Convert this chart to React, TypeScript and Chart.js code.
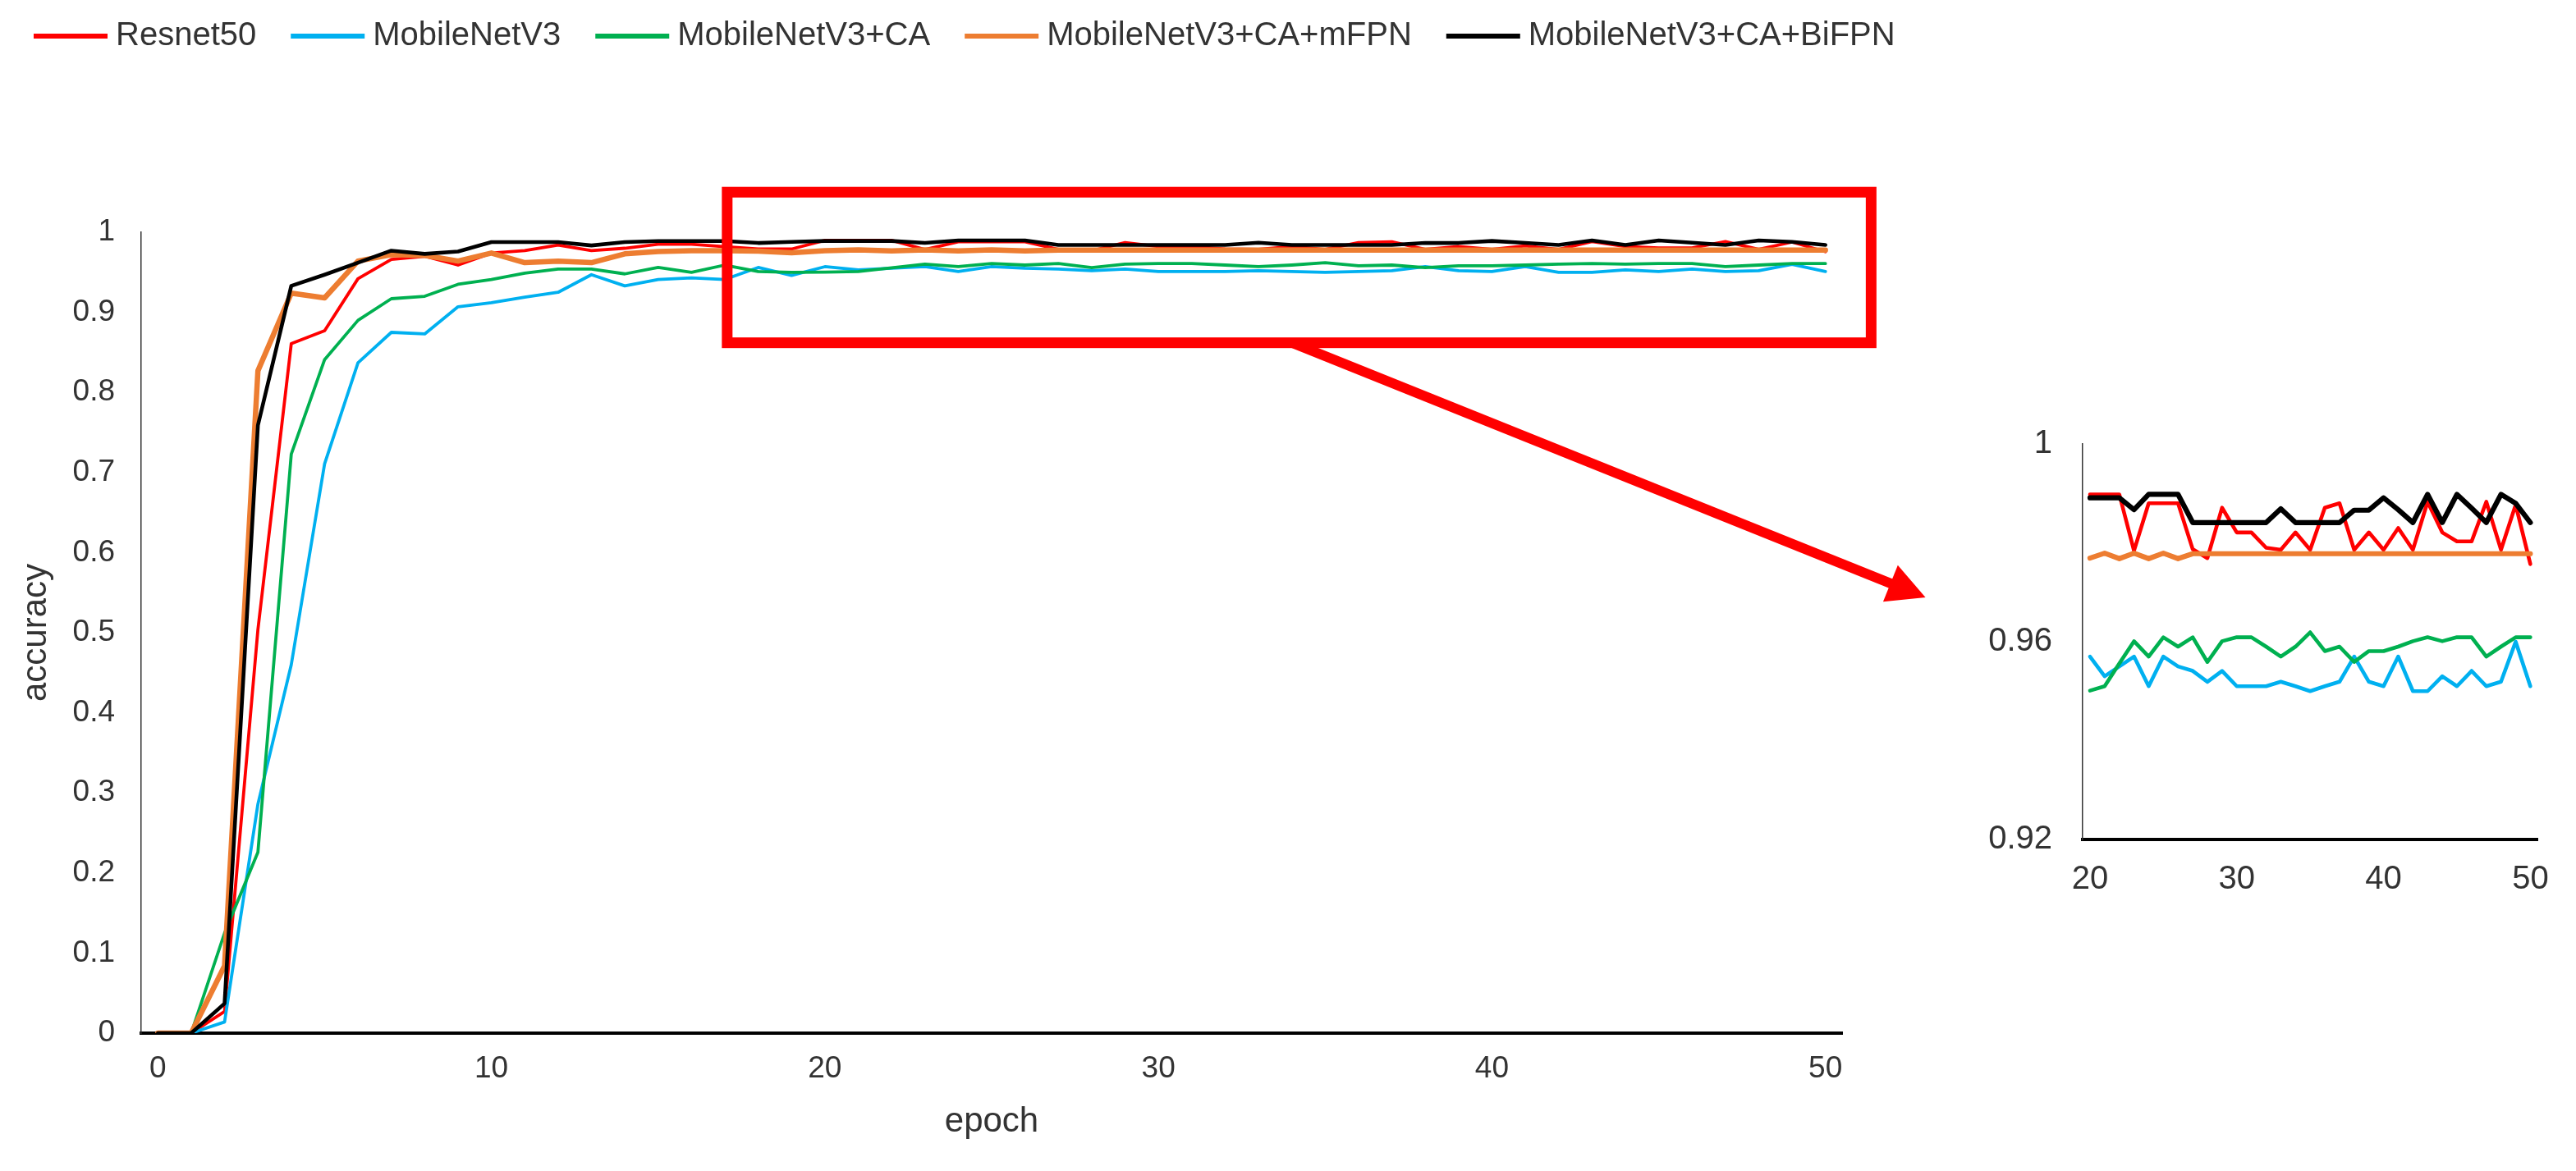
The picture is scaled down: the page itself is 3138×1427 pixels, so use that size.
import React, { useEffect, useRef } from "react";
import { Chart, registerables } from "chart.js";

Chart.register(...registerables);

// ---------------- data ----------------
const epochs = [
  "0", "1", "2", "3", "4", "5", "6", "7", "8", "9",
  "10", "11", "12", "13", "14", "15", "16", "17", "18", "19",
  "20", "21", "22", "23", "24", "25", "26", "27", "28", "29",
  "30", "31", "32", "33", "34", "35", "36", "37", "38", "39",
  "40", "41", "42", "43", "44", "45", "46", "47", "48", "49", "50",
];

const mainXTickLabels = ["0", "10", "20", "30", "40", "50"];
const mainYTicks = [0, 0.1, 0.2, 0.3, 0.4, 0.5, 0.6, 0.7, 0.8, 0.9, 1];
const insetXTickLabels = ["20", "30", "40", "50"];
const insetYTicks = [0.92, 0.96, 1];
const insetStartEpoch = 20;

const seriesNames = [
  "Resnet50",
  "MobileNetV3",
  "MobileNetV3+CA",
  "MobileNetV3+CA+mFPN",
  "MobileNetV3+CA+BiFPN",
];

const resnet50 = [
  0, 0, 0.027, 0.504, 0.861, 0.877, 0.942, 0.966, 0.970, 0.959,
  0.974, 0.977, 0.984, 0.977, 0.980, 0.985, 0.985, 0.982, 0.979, 0.979,
  0.9898, 0.9898, 0.9898, 0.9784, 0.988, 0.988, 0.988, 0.9787, 0.9769, 0.9871,
  0.9821, 0.9821, 0.979, 0.9786, 0.9821, 0.9786, 0.9871, 0.988, 0.9786, 0.9821,
  0.9786, 0.983, 0.9786, 0.9883, 0.9821, 0.9803, 0.9803, 0.9883, 0.9786, 0.9877, 0.9757,
];

const mobileNetV3 = [
  0, 0, 0.014, 0.286, 0.46, 0.711, 0.837, 0.875, 0.873, 0.907,
  0.912, 0.919, 0.925, 0.947, 0.933, 0.941, 0.943, 0.941, 0.956, 0.946,
  0.957, 0.953, 0.955, 0.957, 0.951, 0.957, 0.955, 0.9541, 0.9519, 0.9541,
  0.951, 0.951, 0.951, 0.9519, 0.951, 0.950, 0.951, 0.9519, 0.957, 0.9519,
  0.951, 0.957, 0.950, 0.950, 0.953, 0.951, 0.9541, 0.951, 0.9519, 0.960, 0.951,
];

const mobileNetV3CA = [
  0, 0, 0.125, 0.226, 0.723, 0.841, 0.890, 0.917, 0.920, 0.935,
  0.941, 0.949, 0.954, 0.954, 0.948, 0.956, 0.950, 0.959, 0.951, 0.950,
  0.9501, 0.951, 0.9556, 0.9601, 0.957, 0.9609, 0.959, 0.9609, 0.9559, 0.9601,
  0.9609, 0.9609, 0.959, 0.957, 0.959, 0.9619, 0.9581, 0.959, 0.9559, 0.9581,
  0.9581, 0.959, 0.9601, 0.9609, 0.9601, 0.9609, 0.9609, 0.957, 0.959, 0.9609, 0.9609,
];

const mobileNetV3CAmFPN = [
  0, 0, 0.084, 0.827, 0.924, 0.918, 0.964, 0.972, 0.971, 0.964,
  0.974, 0.962, 0.964, 0.962, 0.973, 0.976, 0.977, 0.977, 0.9765, 0.9745,
  0.9769, 0.9779, 0.9768, 0.9779, 0.9768, 0.9779, 0.9768, 0.9778, 0.9778, 0.9778,
  0.9778, 0.9778, 0.9778, 0.9778, 0.9778, 0.9778, 0.9778, 0.9778, 0.9778, 0.9778,
  0.9778, 0.9778, 0.9778, 0.9778, 0.9778, 0.9778, 0.9778, 0.9778, 0.9778, 0.9778, 0.9778,
];

const mobileNetV3CABiFPN = [
  0, 0, 0.037, 0.759, 0.933, 0.947, 0.962, 0.977, 0.973, 0.976,
  0.9877, 0.9877, 0.9877, 0.9835, 0.9877, 0.989, 0.989, 0.989, 0.9866, 0.988,
  0.9891, 0.9891, 0.9891, 0.9867, 0.9898, 0.9898, 0.9898, 0.9841, 0.9841, 0.9841,
  0.9841, 0.9841, 0.9841, 0.9869, 0.9841, 0.9841, 0.9841, 0.9841, 0.9866, 0.9866,
  0.9891, 0.9867, 0.9841, 0.9898, 0.9841, 0.9898, 0.987, 0.9841, 0.9898, 0.988, 0.9841,
];

// annotation (in main-chart data units: epoch index, accuracy)
const zoomBoxEpochs = [17.07, 51.37];
const zoomBoxAccuracy = [0.862, 1.05];
const arrowFrom = [34.0, 0.862];
const arrowTo = [53.0, 0.544];

// ---------------- styles ----------------
const seriesData = [resnet50, mobileNetV3, mobileNetV3CA, mobileNetV3CAmFPN, mobileNetV3CABiFPN];
const seriesColors = ["#FF0000", "#00B0F0", "#00B050", "#ED7D31", "#000000"];
const mainWidths = [3.8, 3.8, 3.8, 6.5, 4.6];
const insetWidths = [4.6, 4.6, 4.6, 6.2, 6.2];

const FONT = "'Liberation Sans', Arial, sans-serif";
const TEXT = "#333333";
const W = 3122;
const H = 1411;

const fmt = (v: any) => String(Math.round(Number(v) * 100) / 100);

const annotationPlugin = {
  id: "zoomMarker",
  afterDatasetsDraw(chart: any) {
    const { ctx } = chart;
    const x = chart.scales.x;
    const y = chart.scales.y;
    const l = x.getPixelForValue(zoomBoxEpochs[0]);
    const r = x.getPixelForValue(zoomBoxEpochs[1]);
    const t = y.getPixelForValue(zoomBoxAccuracy[1]);
    const b = y.getPixelForValue(zoomBoxAccuracy[0]);
    ctx.save();
    ctx.strokeStyle = "#FF0000";
    ctx.fillStyle = "#FF0000";
    ctx.lineWidth = 13;
    ctx.lineJoin = "miter";
    ctx.strokeRect(l, t, r - l, b - t);

    const sx = x.getPixelForValue(arrowFrom[0]);
    const sy = y.getPixelForValue(arrowFrom[1]);
    const tx = x.getPixelForValue(arrowTo[0]);
    const ty = y.getPixelForValue(arrowTo[1]);
    const ang = Math.atan2(ty - sy, tx - sx);
    const c = Math.cos(ang);
    const s = Math.sin(ang);
    const headLen = 46;
    const headHalf = 24;
    const bx = tx - headLen * c;
    const by = ty - headLen * s;
    ctx.lineWidth = 12;
    ctx.lineCap = "butt";
    ctx.beginPath();
    ctx.moveTo(sx, sy);
    ctx.lineTo(bx + 4 * c, by + 4 * s);
    ctx.stroke();
    ctx.beginPath();
    ctx.moveTo(tx, ty);
    ctx.lineTo(bx - headHalf * s, by + headHalf * c);
    ctx.lineTo(bx + headHalf * s, by - headHalf * c);
    ctx.closePath();
    ctx.fill();
    ctx.restore();
  },
};

const legendPlugin = {
  id: "topLegend",
  afterDraw(chart: any) {
    const ctx = chart.ctx;
    ctx.save();
    ctx.font = `40px ${FONT}`;
    ctx.textBaseline = "middle";
    ctx.textAlign = "left";
    let xPos = 33;
    const yPos = 36;
    chart.data.datasets.forEach((ds: any) => {
      ctx.strokeStyle = ds.borderColor;
      ctx.lineWidth = 6;
      ctx.lineCap = "butt";
      ctx.beginPath();
      ctx.moveTo(xPos, yPos);
      ctx.lineTo(xPos + 90, yPos);
      ctx.stroke();
      ctx.fillStyle = TEXT;
      ctx.fillText(ds.label, xPos + 100, yPos);
      xPos += 100 + ctx.measureText(ds.label).width + 42;
    });
    ctx.restore();
  },
};

function makeDatasets(widths: number[], start: number) {
  return seriesNames.map((name, i) => ({
    label: name,
    data: seriesData[i].slice(start),
    borderColor: seriesColors[i],
    backgroundColor: seriesColors[i],
    borderWidth: widths[i],
    pointRadius: 0,
    pointHoverRadius: 0,
    tension: 0,
    fill: false,
    borderJoinStyle: "round" as const,
    borderCapStyle: "round" as const,
    order: seriesNames.length - 1 - i,
  }));
}

export default function App() {
  const mainRef = useRef<HTMLCanvasElement>(null);
  const insetRef = useRef<HTMLCanvasElement>(null);

  useEffect(() => {
    if (!mainRef.current || !insetRef.current) return;

    const main = new Chart(mainRef.current, {
      type: "line",
      data: { labels: epochs, datasets: makeDatasets(mainWidths, 0) as any },
      options: {
        responsive: false,
        animation: false,
        events: [],
        layout: { padding: { left: 0, top: 275, right: 886, bottom: 0 } },
        plugins: { legend: { display: false }, tooltip: { enabled: false }, title: { display: false } },
        scales: {
          x: {
            type: "category",
            offset: true,
            grid: { display: false, drawTicks: false },
            border: { display: true, color: "#000000", width: 4 },
            ticks: {
              autoSkip: false,
              maxRotation: 0,
              minRotation: 0,
              padding: 22,
              color: TEXT,
              font: { family: FONT, size: 37 },
              callback: (_v: any, index: number) =>
                mainXTickLabels.includes(epochs[index]) ? epochs[index] : "",
            },
            title: {
              display: true,
              text: "epoch",
              color: TEXT,
              font: { family: FONT, size: 42 },
              padding: { top: 0, bottom: 26 },
            },
            afterFit: (s: any) => {
              s.height = 160;
            },
          },
          y: {
            type: "linear",
            min: 0,
            max: 1,
            grid: { display: false, drawTicks: false },
            border: { display: true, color: "#333333", width: 1.5 },
            ticks: { padding: 32, color: TEXT, font: { family: FONT, size: 37 }, callback: fmt },
            afterBuildTicks: (s: any) => {
              s.ticks = mainYTicks.map((v) => ({ value: v }));
            },
            title: {
              display: true,
              text: "accuracy",
              color: TEXT,
              font: { family: FONT, size: 42 },
              padding: { top: 11, bottom: 0 },
            },
            afterFit: (s: any) => {
              s.width = 164;
            },
          },
        },
      },
      plugins: [annotationPlugin, legendPlugin],
    });

    const insetLabels = epochs.slice(insetStartEpoch);
    const inset = new Chart(insetRef.current, {
      type: "line",
      data: { labels: insetLabels, datasets: makeDatasets(insetWidths, insetStartEpoch) as any },
      options: {
        responsive: false,
        animation: false,
        events: [],
        layout: { padding: { left: 0, top: 46, right: 23, bottom: 0 } },
        plugins: { legend: { display: false }, tooltip: { enabled: false }, title: { display: false } },
        scales: {
          x: {
            type: "category",
            offset: true,
            grid: { display: false, drawTicks: false },
            border: { display: true, color: "#000000", width: 4 },
            ticks: {
              autoSkip: false,
              maxRotation: 0,
              minRotation: 0,
              padding: 25,
              color: TEXT,
              font: { family: FONT, size: 40 },
              callback: (_v: any, index: number) =>
                insetXTickLabels.includes(insetLabels[index]) ? insetLabels[index] : "",
            },
            afterFit: (s: any) => {
              s.height = 87;
            },
          },
          y: {
            type: "linear",
            min: 0.92,
            max: 1,
            grid: { display: false, drawTicks: false },
            border: { display: true, color: "#333333", width: 1.5 },
            ticks: { padding: 37, color: TEXT, font: { family: FONT, size: 40 }, callback: fmt },
            afterBuildTicks: (s: any) => {
              s.ticks = insetYTicks.map((v) => ({ value: v }));
            },
            afterFit: (s: any) => {
              s.width = 197;
            },
          },
        },
      },
    });

    return () => {
      main.destroy();
      inset.destroy();
    };
  }, []);

  return (
    <div style={{ position: "relative", width: W, height: H, background: "#ffffff" }}>
      <canvas
        ref={mainRef}
        width={W}
        height={H}
        style={{ position: "absolute", left: 0, top: 0, width: W, height: H, display: "block" }}
      />
      <canvas
        ref={insetRef}
        width={790}
        height={630}
        style={{ position: "absolute", left: 2332, top: 472, width: 790, height: 630, display: "block" }}
      />
    </div>
  );
}
